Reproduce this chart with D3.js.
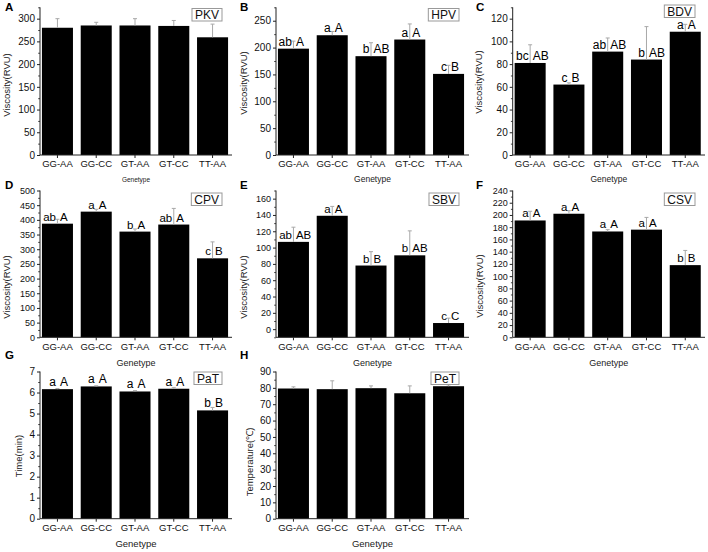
<!DOCTYPE html>
<html><head><meta charset="utf-8">
<script src="https://cdn.jsdelivr.net/npm/d3@7"></script>
<style>body{margin:0;background:#fff}svg{display:block;font-family:"Liberation Sans",Arial,sans-serif}</style>
</head><body><svg width="708" height="552"></svg>
<script>
// ---------- DATA ----------
const genotypes = ["GG-AA", "GG-CC", "GT-AA", "GT-CC", "TT-AA"];

const pkv    = [280, 285, 285, 284, 259];
const pkvErr = [20, 7, 15, 12, 29];

const hpv    = [198, 223, 184, 215, 151];
const hpvErr = [14, 7, 25, 29, 16];
const hpvLow = ["ab", "a", "b", "a", "c"];
const hpvUp  = ["A", "A", "AB", "A", "B"];

const bdv    = [81, 62, 91, 84, 108.5];
const bdvErr = [16, 1.5, 12, 29, 6.5];
const bdvLow = ["bc", "c", "ab", "b", "a"];
const bdvUp  = ["AB", "B", "AB", "AB", "A"];

const cpv    = [387, 428, 360, 384, 269];
const cpvErr = [15, 8, 9, 55, 56];
const cpvLow = ["ab", "a", "b", "ab", "c"];
const cpvUp  = ["A", "A", "A", "A", "B"];

const sbv    = [107, 139, 78, 90.5, 7.5];
const sbvErr = [18, 11.5, 17, 30, 6];
const sbvLow = ["ab", "a", "b", "b", "c"];
const sbvUp  = ["AB", "A", "B", "AB", "C"];

const csv    = [191, 202, 173, 176, 118];
const csvErr = [15, 5, 3, 20, 24];
const csvLow = ["a", "a", "a", "a", "b"];
const csvUp  = ["A", "A", "A", "A", "B"];

const pat    = [6.16, 6.29, 6.05, 6.18, 5.15];
const patErr = [0.03, 0.03, 0.04, 0.05, 0.14];
const patLow = ["a", "a", "a", "a", "b"];
const patUp  = ["A", "A", "A", "A", "B"];

const pet    = [79.6, 79.2, 79.8, 76.7, 81.0];
const petErr = [1.0, 5.1, 1.4, 4.5, 0.8];

// ---------- LAYOUT ----------
const colX0 = [40, 276, 512.7];
const colX1 = [232, 469, 705];
const rowTop = [7.3, 190.5, 371.5];
const rowBottom = [155, 337.3, 518.7];
const letterX = [5, 240, 476];
const letterY = [11, 189, 359];
const genetypeY = [182, 366, 547];
const legendTop = [8.5, 193, 372];

const panels = [
  {id:"A", name:"PKV", col:0,row:0, v:pkv, e:pkvErr, domain:[0,325], step:50, yTitle:"Viscosity(RVU)", tx:10, ty:85, gfs:6.5, tfs:10},
  {id:"B", name:"HPV", col:1,row:0, v:hpv, e:hpvErr, lo:hpvLow, up:hpvUp, domain:[0,275], step:50, yTitle:"Viscosity(RVU)", tx:246.5, ty:83, gfs:8.5, tfs:10},
  {id:"C", name:"BDV", col:2,row:0, v:bdv, e:bdvErr, lo:bdvLow, up:bdvUp, domain:[0,130], step:20, yTitle:"Viscosity(RVU)", tx:482, ty:82, gfs:8.5, tfs:10, lt:5},
  {id:"D", name:"CPV", col:0,row:1, v:cpv, e:cpvErr, lo:cpvLow, up:cpvUp, domain:[0,500], step:50, yTitle:"Viscosity(RVU)", tx:10, ty:287, gfs:9, tfs:9},
  {id:"E", name:"SBV", col:1,row:1, v:sbv, e:sbvErr, lo:sbvLow, up:sbvUp, domain:[-10,170], step:20, yTitle:"Viscosity(RVU)", tx:246.5, ty:287, gfs:9, tfs:9, tickStart:0, tickEnd:160},
  {id:"F", name:"CSV", col:2,row:1, v:csv, e:csvErr, lo:csvLow, up:csvUp, domain:[0,240], step:20, yTitle:"Viscosity(RVU)", tx:483, ty:286, gfs:9, tfs:9},
  {id:"G", name:"PaT", col:0,row:2, v:pat, e:patErr, lo:patLow, up:patUp, domain:[0,7], step:1, yTitle:"Time(min)", tx:21.5, ty:456, gfs:9.5, tfs:10},
  {id:"H", name:"PeT", col:1,row:2, v:pet, e:petErr, domain:[0,90], step:10, yTitle:"Temperature(\u2103)", tx:252.5, ty:462, gfs:9.5, tfs:10}
];

const svg = d3.select("svg");

panels.forEach(p => {
  const g = svg.append("g");
  const x0 = colX0[p.col], x1 = colX1[p.col];
  const yb = rowBottom[p.row], yt = rowTop[p.row];
  const x = d3.scaleBand().domain(genotypes).range([x0, x0 + 190]).paddingInner(0.2).paddingOuter(0.05);
  const y = d3.scaleLinear().domain(p.domain).range([yb, yt]);
  const bw = x.bandwidth();

  // bars
  g.selectAll("rect.bar").data(p.v).join("rect").attr("class","bar")
    .attr("x", (d,i) => x(genotypes[i]))
    .attr("y", d => y(d))
    .attr("width", bw)
    .attr("height", d => y(p.domain[0]) - y(d))
    .attr("fill", "#000");

  // error bars (upper half only)
  const eg = g.append("g").attr("stroke", "#a8a8a8").attr("stroke-width", 1);
  p.v.forEach((d,i) => {
    const cx = x(genotypes[i]) + bw/2;
    const top = y(d + p.e[i]);
    eg.append("line").attr("x1", cx).attr("x2", cx).attr("y1", y(d)).attr("y2", top);
    eg.append("line").attr("x1", cx - 2).attr("x2", cx + 2).attr("y1", top).attr("y2", top);
  });

  // y axis
  const tStart = p.tickStart !== undefined ? p.tickStart : p.domain[0];
  const tEnd = p.tickEnd !== undefined ? p.tickEnd : p.domain[1];
  const majors = d3.range(tStart, tEnd + p.step/2, p.step);
  const minors = d3.range(tStart - p.step/2, p.domain[1] + 1e-9, p.step).filter(v => v >= p.domain[0] - 1e-9);
  const ya = g.append("g").attr("transform", `translate(${x0},0)`)
    .call(d3.axisLeft(y).tickValues(majors).tickSize(3).tickPadding(2).tickFormat(d3.format("d")));
  ya.select(".domain").remove();
  ya.selectAll("text").attr("font-size", p.tfs).attr("font-family", "Liberation Sans, Arial, sans-serif").attr("fill", "#111");
  ya.selectAll("line").attr("stroke", "#222");
  const ym = g.append("g").attr("transform", `translate(${x0},0)`)
    .call(d3.axisLeft(y).tickValues(minors).tickSize(1.8).tickFormat(""));
  ym.select(".domain").remove();
  ym.selectAll("line").attr("stroke", "#444");

  // axis lines
  g.append("line").attr("x1", x0).attr("x2", x0).attr("y1", yt).attr("y2", yb).attr("stroke", "#222");
  g.append("line").attr("x1", x0).attr("x2", x1).attr("y1", yb).attr("y2", yb).attr("stroke", "#222");

  // x axis ticks & labels
  const xa = g.append("g").attr("transform", `translate(0,${yb})`)
    .call(d3.axisBottom(x).tickSize(3).tickPadding(2.5));
  xa.select(".domain").remove();
  xa.selectAll("line").attr("stroke", "#222");
  xa.selectAll("text").attr("font-size", 9.5).attr("font-family", "Liberation Sans, Arial, sans-serif").attr("fill", "#111");

  // significance letters
  if (p.lo) {
    p.v.forEach((d,i) => {
      const cx = x(genotypes[i]) + bw/2;
      const by = y(d) - 3;
      const fs = p.row === 1 ? 11.5 : 12;
      g.append("text").attr("x", cx - 1.5).attr("y", by).attr("text-anchor", "end")
        .attr("font-size", fs).attr("fill", "#000").text(p.lo[i]);
      g.append("text").attr("x", cx + 2.5).attr("y", by).attr("text-anchor", "start")
        .attr("font-size", fs).attr("fill", "#000").text(p.up[i]);
    });
  }

  // legend box
  const lt = p.lt !== undefined ? p.lt : legendTop[p.row];
  const lg = g.append("g");
  const txt = lg.append("text").attr("font-size", 12).attr("fill", "#111").attr("text-anchor", "end")
    .attr("x", x1 - 13).attr("y", lt + 10.5).text(p.name);
  const tw = txt.node().getComputedTextLength();
  lg.insert("rect", "text").attr("x", x1 - 10 - tw - 6).attr("y", lt).attr("width", tw + 6).attr("height", 12.5)
    .attr("fill", "#fff").attr("stroke", "#999").attr("stroke-width", 1);

  // panel letter
  g.append("text").attr("x", letterX[p.col]).attr("y", letterY[p.row])
    .attr("font-size", 11.5).attr("font-weight", "bold").attr("fill", "#000").text(p.id);

  // x title
  g.append("text").attr("x", (x0 + x1)/2).attr("y", genetypeY[p.row]).attr("text-anchor", "middle")
    .attr("font-size", p.gfs).attr("fill", "#222").text("Genetype");

  // y title
  g.append("text").attr("transform", `translate(${p.tx},${p.ty}) rotate(-90)`).attr("text-anchor", "middle")
    .attr("font-size", 9.5).attr("fill", "#222").text(p.yTitle);
});
</script></body></html>
